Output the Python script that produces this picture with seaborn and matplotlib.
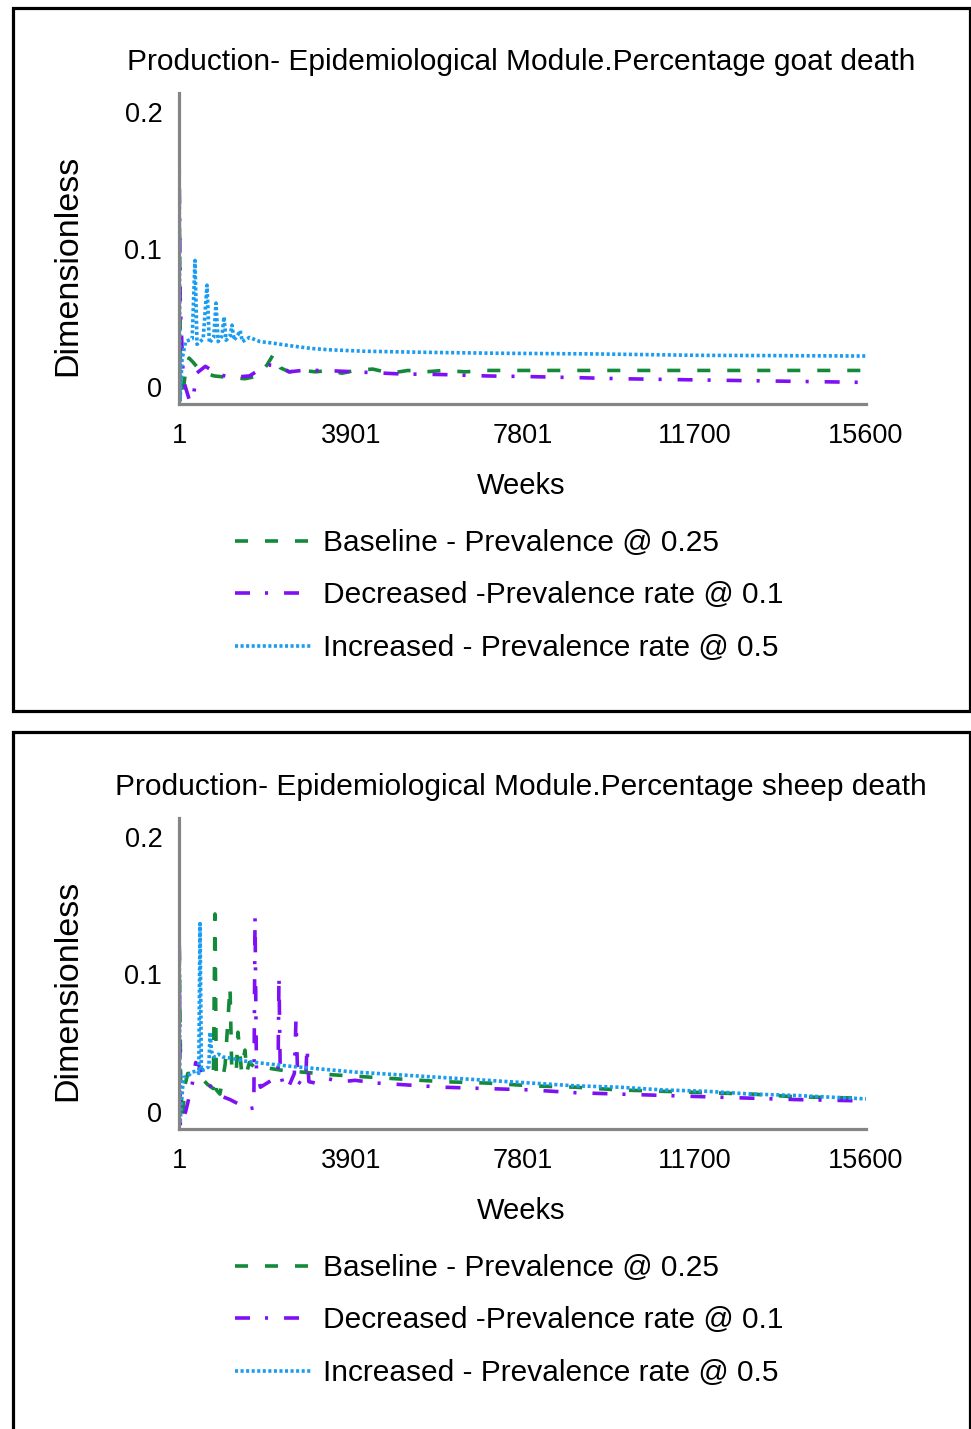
import pandas as pd
import matplotlib.pyplot as plt
import seaborn as sns
from matplotlib.patches import Rectangle

# -------------------------------
# Data
# -------------------------------
scenarios = ['Baseline - Prevalence @ 0.25',
             'Decreased -Prevalence rate @ 0.1',
             'Increased - Prevalence rate @ 0.5']
x_ticks = [1, 3901, 7801, 11700, 15600]
y_ticks = [0, 0.1, 0.2]
y_tick_labels = ['0', '0.1', '0.2']

# goat death
goat_base_weeks = [1, 40, 90, 150, 230, 320, 450, 600, 800, 1100, 1500, 1800, 2000, 2150,
                   2300, 2500, 2800, 3100, 3400, 3700, 4000, 4400, 4800, 5200, 5600, 6000,
                   6500, 7000, 8000, 10000, 12000, 15600]
goat_base = [0.160, -0.008, -0.005, 0.012, 0.021, 0.018, 0.013, 0.010, 0.008, 0.007, 0.006,
             0.008, 0.016, 0.024, 0.014, 0.011, 0.012, 0.011, 0.012, 0.010, 0.012, 0.013,
             0.010, 0.012, 0.011, 0.012, 0.011, 0.012, 0.012, 0.012, 0.012, 0.012]
goat_dec_weeks = [1, 30, 100, 250, 330, 400, 600, 750, 900, 1200, 1600, 1900, 2050, 2300,
                  2500, 2800, 3300, 4000, 5000, 6000, 7000, 8000, 9000, 10000, 11000, 12000,
                  13500, 15600]
goat_dec = [0.180, 0.060, 0.005, -0.011, -0.006, 0.010, 0.015, 0.012, 0.009, 0.007, 0.008,
            0.014, 0.016, 0.015, 0.011, 0.012, 0.012, 0.011, 0.0095, 0.009, 0.008, 0.0075,
            0.0068, 0.006, 0.0055, 0.005, 0.0043, 0.0033]
goat_inc_weeks = [1, 25, 70, 150, 300, 364, 410, 550, 637, 690, 790, 841, 890, 975, 1023,
                  1070, 1160, 1205, 1250, 1340, 1390, 1440, 1600, 1840, 2100, 2520, 3000,
                  3430, 4200, 5020, 6000, 7300, 9500, 11800, 13500, 15600]
goat_inc = [0.180, -0.010, 0.020, 0.033, 0.035, 0.092, 0.031, 0.035, 0.074, 0.032, 0.036,
            0.061, 0.033, 0.037, 0.051, 0.034, 0.037, 0.045, 0.034, 0.038, 0.041, 0.033,
            0.036, 0.033, 0.032, 0.030, 0.028, 0.027, 0.026, 0.0255, 0.025, 0.0245, 0.024,
            0.023, 0.0228, 0.0225]

# sheep death
sheep_base_weeks = [1, 40, 70, 140, 200, 300, 420, 500, 650, 780, 818, 850, 930, 1000, 1050,
                    1159, 1200, 1300, 1340, 1420, 1499, 1540, 1600, 1700, 1800, 2000, 2400,
                    2800, 3500, 4000, 5000, 6000, 7000, 8000, 9000, 10000, 11000, 12000,
                    13000, 14000, 15600]
sheep_base = [0.140, 0.020, -0.007, 0.020, 0.028, 0.028, 0.026, 0.025, 0.020, 0.017, 0.144,
              0.016, 0.013, 0.025, 0.035, 0.091, 0.030, 0.028, 0.058, 0.030, 0.045, 0.029,
              0.036, 0.033, 0.034, 0.032, 0.030, 0.029, 0.027, 0.026, 0.024, 0.022, 0.021,
              0.019, 0.018, 0.016, 0.015, 0.014, 0.013, 0.011, 0.010]
sheep_dec_weeks = [1, 30, 90, 150, 300, 380, 450, 600, 800, 1000, 1160, 1400, 1550, 1700,
                   1727, 1760, 1850, 2000, 2150, 2250, 2271, 2300, 2400, 2500, 2620, 2657,
                   2700, 2800, 2880, 2907, 2950, 3100, 3400, 3700, 4000, 4500, 5000, 6000,
                   7000, 8000, 9000, 10000, 11000, 12000, 13000, 14000, 15600]
sheep_dec = [0.157, -0.011, -0.004, 0.000, 0.020, 0.036, 0.034, 0.024, 0.015, 0.011, 0.009,
             0.005, 0.002, 0.003, 0.142, 0.030, 0.018, 0.021, 0.024, 0.030, 0.099, 0.028,
             0.016, 0.019, 0.028, 0.067, 0.022, 0.020, 0.026, 0.047, 0.022, 0.021, 0.024,
             0.022, 0.023, 0.021, 0.020, 0.018, 0.017, 0.016, 0.014, 0.013, 0.012, 0.011,
             0.010, 0.009, 0.008]
sheep_inc_weeks = [1, 25, 100, 200, 300, 420, 450, 478, 510, 600, 680, 705, 740, 800, 900,
                   1000, 1200, 1500, 2000, 2600, 3300, 4000, 5000, 6000, 7000, 8000, 9000,
                   10000, 11000, 12000, 13000, 14000, 15600]
sheep_inc = [0.157, -0.008, 0.025, 0.026, 0.029, 0.030, 0.028, 0.137, 0.030, 0.031, 0.033,
             0.058, 0.044, 0.040, 0.042, 0.040, 0.039, 0.037, 0.035, 0.033, 0.031, 0.029,
             0.027, 0.025, 0.023, 0.021, 0.019, 0.018, 0.016, 0.015, 0.013, 0.012, 0.0095]

titles = ['Production- Epidemiological Module.Percentage goat death',
          'Production- Epidemiological Module.Percentage sheep death']


def make_frame(base_w, base_v, dec_w, dec_v, inc_w, inc_v):
    parts = []
    for name, w, v in zip(scenarios, [base_w, dec_w, inc_w], [base_v, dec_v, inc_v]):
        parts.append(pd.DataFrame({'Week': w, 'Value': v, 'Scenario': name}))
    return pd.concat(parts, ignore_index=True)


frames = [make_frame(goat_base_weeks, goat_base, goat_dec_weeks, goat_dec,
                     goat_inc_weeks, goat_inc),
          make_frame(sheep_base_weeks, sheep_base, sheep_dec_weeks, sheep_dec,
                     sheep_inc_weeks, sheep_inc)]

# -------------------------------
# Styling
# -------------------------------
sns.set_style('white')
plt.rcParams['font.family'] = ['Liberation Sans', 'DejaVu Sans']
plt.rcParams['lines.scale_dashes'] = False
plt.rcParams['text.color'] = 'black'
plt.rcParams['axes.labelcolor'] = 'black'

palette = {scenarios[0]: '#14893a', scenarios[1]: '#7f10f5', scenarios[2]: '#1a9cf0'}
dashes = {scenarios[0]: (9.4, 12.2),
          scenarios[1]: (10.8, 10.8, 2.2, 11.5),
          scenarios[2]: (2.2, 1.8)}

W, H = 971, 1429
fig = plt.figure(figsize=(W / 100, H / 100), dpi=100)

offsets = [0, 725]
for i, (df, off) in enumerate(zip(frames, offsets)):
    ax_bottom, ax_top = 404 + off, 93 + off
    ax = fig.add_axes([179 / W, 1 - ax_bottom / H, (866 - 179) / W, (ax_bottom - ax_top) / H])
    sns.lineplot(data=df, x='Week', y='Value', hue='Scenario', style='Scenario',
                 palette=palette, dashes=dashes, linewidth=2.6, estimator=None,
                 sort=False, ax=ax)
    ax.set_xlim(1, 15600)
    ax.set_ylim(-0.0124, 0.2138)
    ax.set_xticks(x_ticks)
    ax.set_xticklabels([str(t) for t in x_ticks])
    ax.set_yticks(y_ticks)
    ax.set_yticklabels(y_tick_labels)
    ax.tick_params(axis='both', length=0, labelsize=19.5, colors='black')
    ax.tick_params(axis='y', pad=12)
    ax.tick_params(axis='x', pad=14)
    ax.set_xlabel('')
    ax.set_ylabel('')
    sns.despine(ax=ax)
    for side in ['left', 'bottom']:
        ax.spines[side].set_color('#858585')
        ax.spines[side].set_linewidth(2.3)

    # legend below the plot
    old = ax.get_legend()
    handles = old.legend_handles
    labels = [t.get_text() for t in old.get_texts()]
    old.remove()
    leg = ax.legend(handles, labels, loc='upper left',
                    bbox_to_anchor=(235 / W, 1 - (529 + off) / H),
                    bbox_transform=fig.transFigure, frameon=False, fontsize=21.5,
                    borderpad=0, borderaxespad=0, handlelength=2.57, handletextpad=0.37,
                    labelspacing=0.82)
    for t in leg.get_texts():
        t.set_color('black')

    fig.text(521 / W, 1 - (62 + off) / H, titles[i], ha='center', va='center', fontsize=21.5)
    fig.text(521 / W, 1 - (486 + off) / H, 'Weeks', ha='center', va='center', fontsize=21)
    fig.text(68 / W, 1 - (265 + off) / H, 'Dimensionless', ha='center', va='center',
             rotation=90, fontsize=24.5)

# panel frames
fig.add_artist(Rectangle((13 / W, 1 - 711 / H), (970 - 13) / W, (711 - 8) / H,
                         transform=fig.transFigure, fill=False, lw=2.3, ec='black'))
fig.add_artist(Rectangle((13 / W, -0.05), (970 - 13) / W, (1 - 732 / H) + 0.05,
                         transform=fig.transFigure, fill=False, lw=2.3, ec='black',
                         clip_on=False))

fig.savefig('out.png', dpi=100, facecolor='white')
